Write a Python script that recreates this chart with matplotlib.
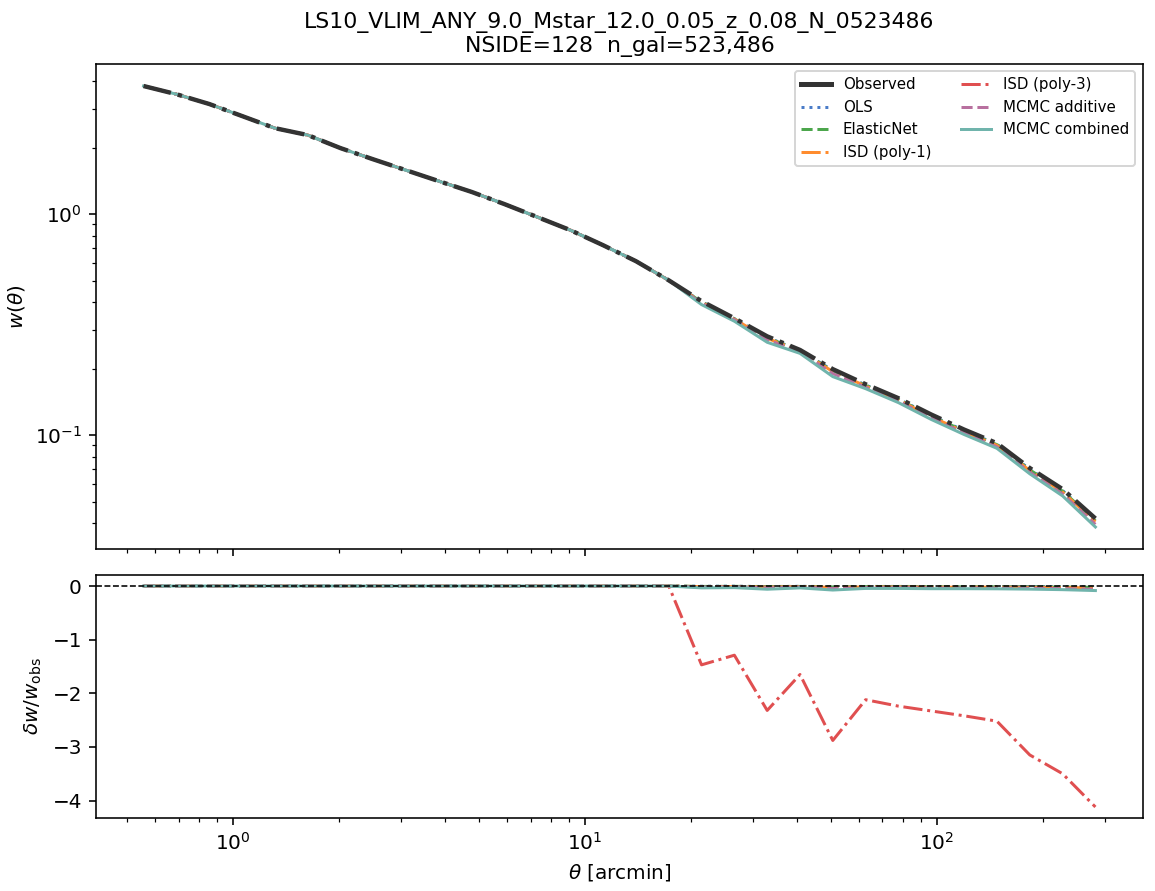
import matplotlib
matplotlib.use("Agg")
import matplotlib.pyplot as plt
from matplotlib.lines import Line2D
import numpy as np

# angular bins [arcmin]
theta = [0.556, 0.689, 0.855, 1.059, 1.313, 1.628, 2.018, 2.502, 3.101, 3.844,
         4.766, 5.906, 7.322, 9.078, 11.25, 13.95, 17.30, 21.44, 26.58, 32.95,
         40.85, 50.62, 62.76, 77.80, 96.45, 119.6, 148.2, 183.8, 227.8, 282.4]

# observed w(theta)
w_obs = [3.80, 3.49, 3.15, 2.78, 2.45, 2.28, 1.99, 1.77, 1.58, 1.41,
         1.26, 1.11, 0.97, 0.847, 0.724, 0.613, 0.502, 0.404, 0.338, 0.280,
         0.243, 0.199, 0.170, 0.147, 0.124, 0.106, 0.092, 0.071, 0.057, 0.042]

# fractional change (w_corr - w_obs) / w_obs for each method
zeros17 = [0.0] * 17
d_ols = zeros17 + [-0.005, -0.004, -0.010, -0.006, -0.012, -0.008, -0.008,
                   -0.010, -0.010, -0.010, -0.012, -0.014, -0.016]
d_enet = zeros17 + [-0.008, -0.006, -0.014, -0.008, -0.018, -0.012, -0.012,
                    -0.015, -0.015, -0.015, -0.018, -0.020, -0.024]
d_poly1 = zeros17 + [-0.012, -0.010, -0.020, -0.012, -0.025, -0.018, -0.018,
                     -0.022, -0.022, -0.022, -0.025, -0.030, -0.034]
d_poly3 = zeros17 + [-1.47, -1.29, -2.32, -1.65, -2.88, -2.12, -2.24,
                     -2.33, -2.42, -2.52, -3.15, -3.50, -4.12]
d_add = zeros17 + [-0.020, -0.015, -0.035, -0.020, -0.045, -0.030, -0.030,
                   -0.035, -0.035, -0.038, -0.042, -0.050, -0.060]
d_comb = zeros17 + [-0.035, -0.030, -0.060, -0.035, -0.075, -0.045, -0.045,
                    -0.050, -0.050, -0.052, -0.058, -0.068, -0.085]

methods = ["OLS", "ElasticNet", "ISD (poly-1)", "ISD (poly-3)",
           "MCMC additive", "MCMC combined"]
deltas = [d_ols, d_enet, d_poly1, d_poly3, d_add, d_comb]
colors = ["#4a7cc8", "#4ca64c", "#ff8c2e", "#e04f50", "#b8709f", "#70b4ac"]
styles = [":", "--", "-.", "-.", "--", "-"]

th = np.array(theta)
wo = np.array(w_obs)

fig = plt.figure(figsize=(1155 / 144, 891 / 144), dpi=144)
ax1 = fig.add_axes([0.0831, 0.3838, 0.9065, 0.5444])
ax2 = fig.add_axes([0.0831, 0.0819, 0.9065, 0.2728], sharex=ax1)

# observed curve, drawn on top
ax1.plot(th, wo, color="#333333", lw=2.2, ls="-.", zorder=10)

handles = [Line2D([], [], color="#333333", lw=2.5, label="Observed")]
for name, d, c, s in zip(methods, deltas, colors, styles):
    d = np.array(d)
    w_corr = wo * (1 + d)
    w_plot = np.where(w_corr > 0, w_corr, np.nan)
    ln, = ax1.plot(th, w_plot, color=c, ls=s, lw=1.5, label=name)
    ax2.plot(th, d, color=c, ls=s, lw=1.5)
    handles.append(ln)

ax1.set_xscale("log")
ax1.set_yscale("log")
ax1.set_ylabel(r"$w(\theta)$")
ax1.set_title("LS10_VLIM_ANY_9.0_Mstar_12.0_0.05_z_0.08_N_0523486\n"
              "NSIDE=128  n_gal=523,486", fontsize=11)
ax1.legend(handles=handles, ncol=2, fontsize=7.5, loc="upper right")
plt.setp(ax1.get_xticklabels(), visible=False)

ax2.axhline(0, color="k", ls="--", lw=0.8)
ax2.set_xlabel(r"$\theta$ [arcmin]")
ax2.set_ylabel(r"$\delta w / w_{\rm obs}$")

fig.savefig("out.png", dpi=144)
